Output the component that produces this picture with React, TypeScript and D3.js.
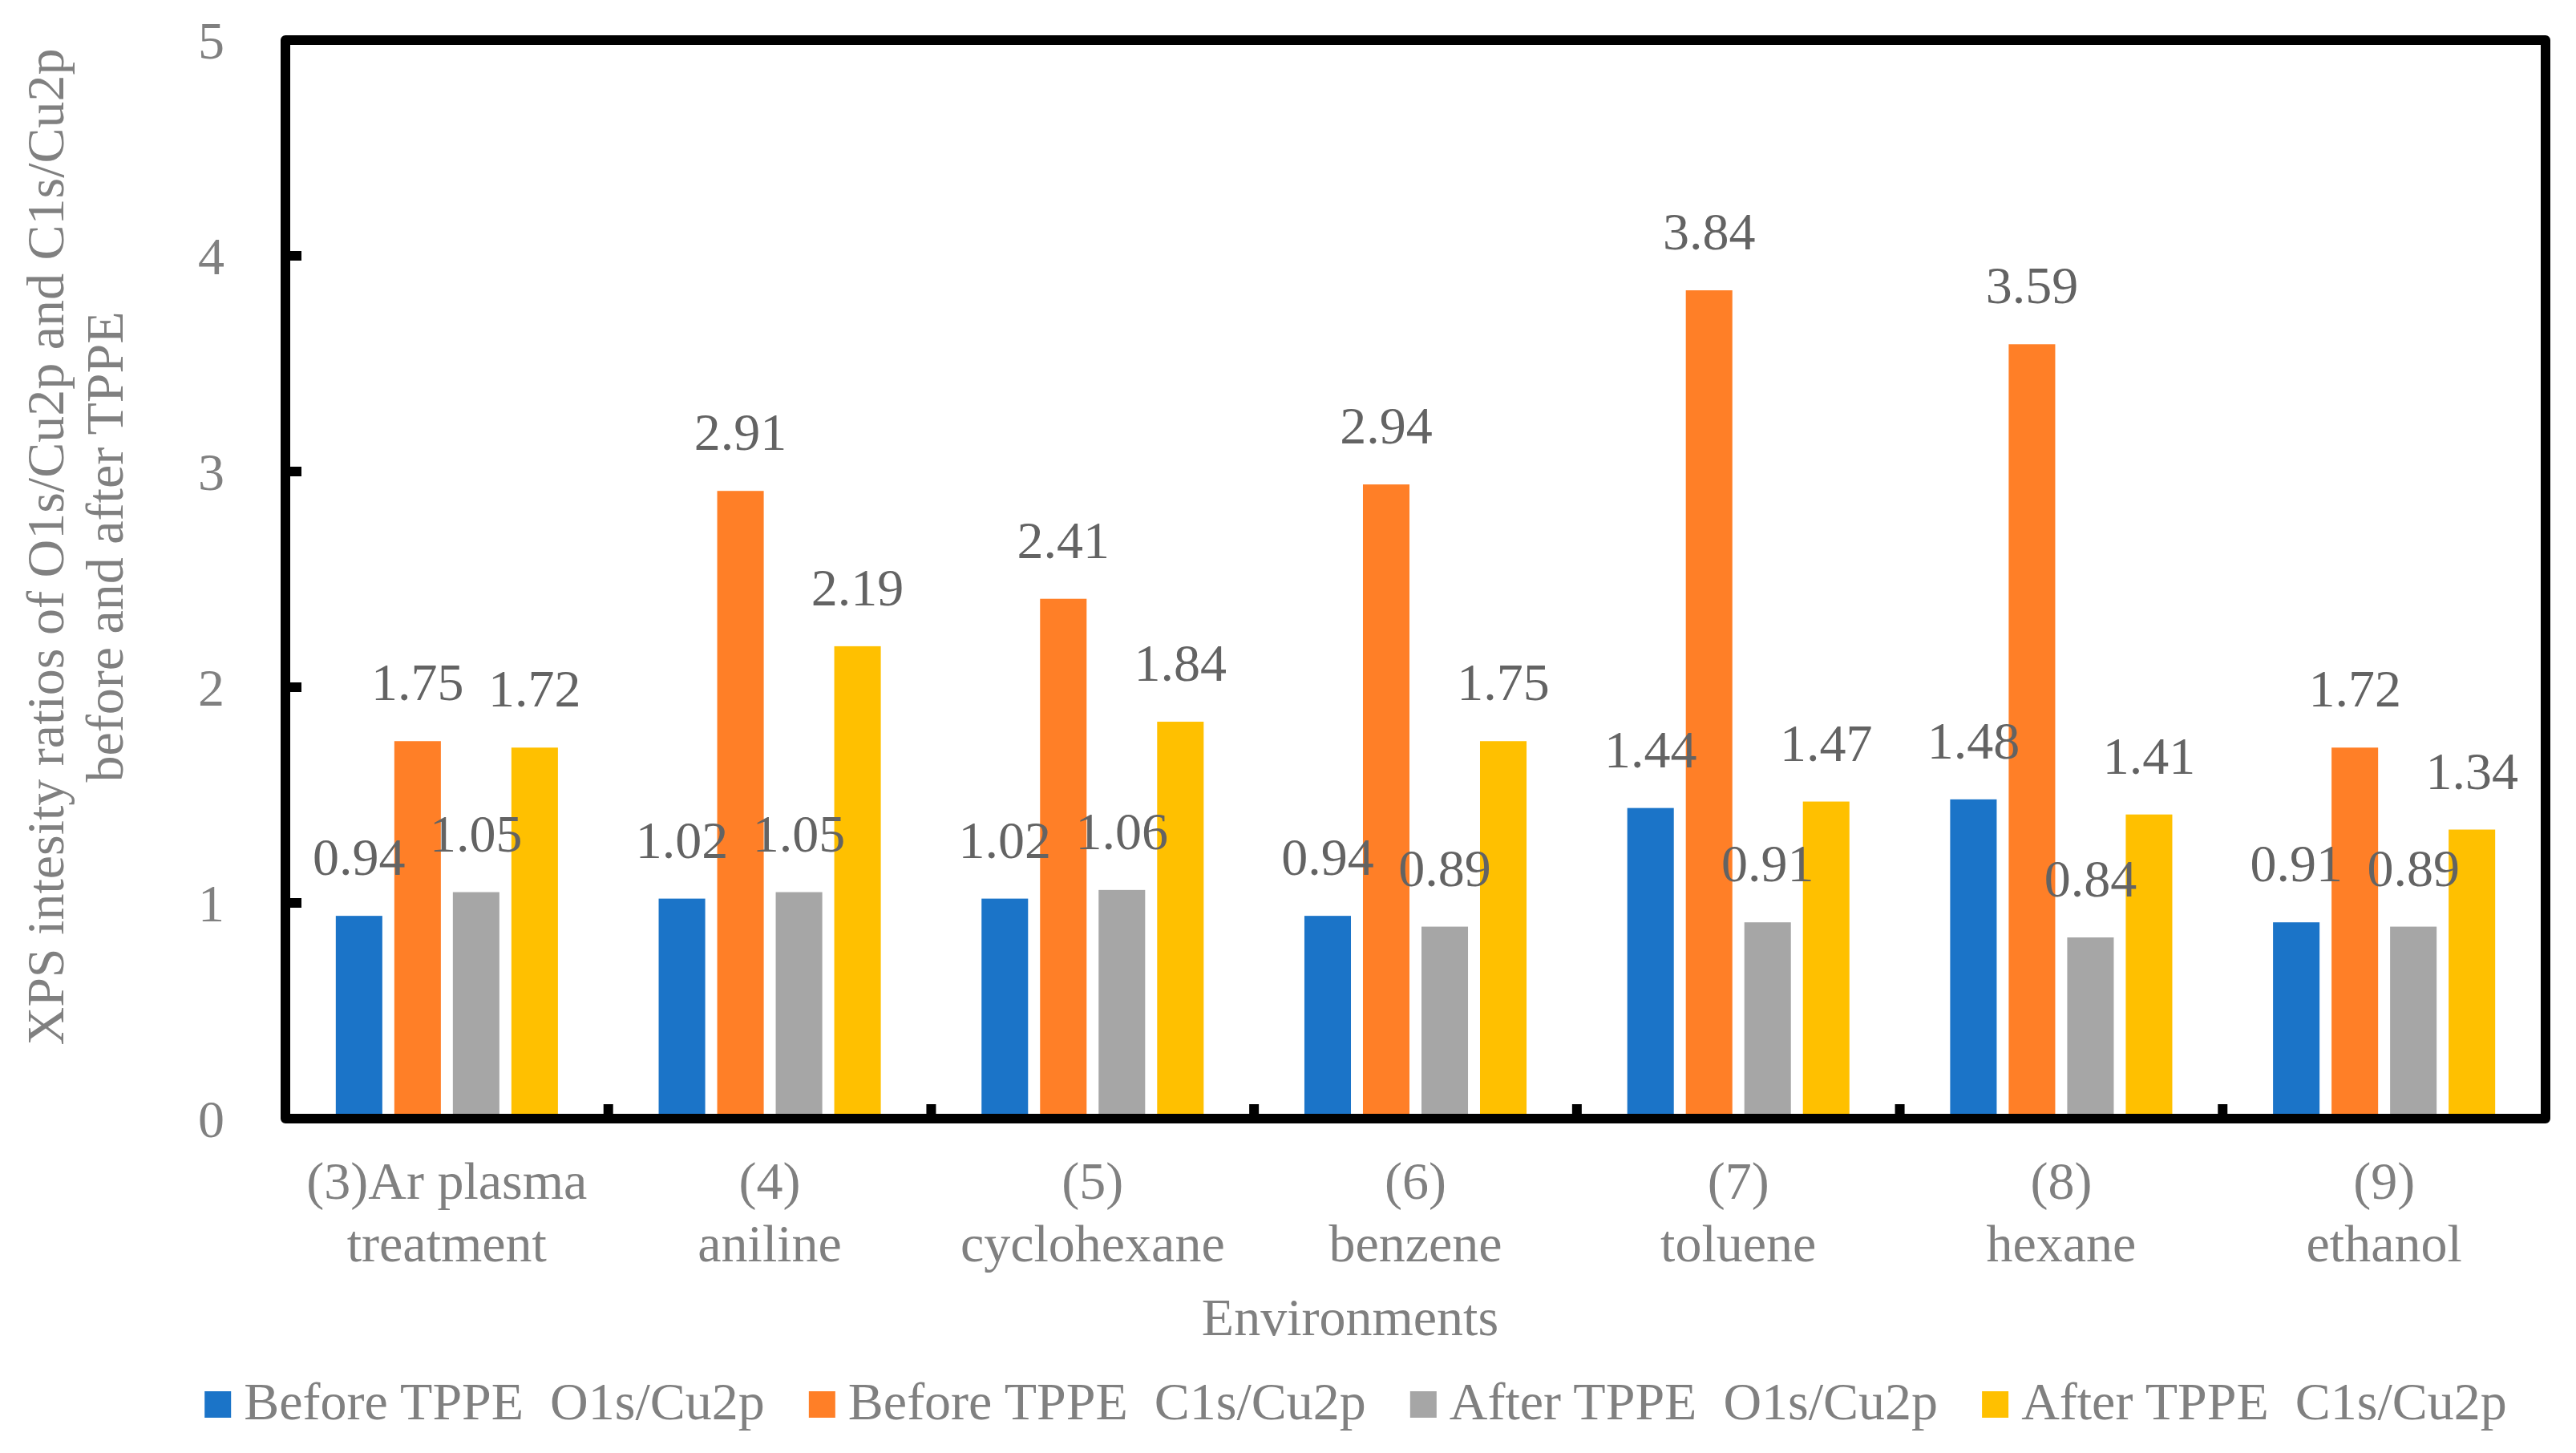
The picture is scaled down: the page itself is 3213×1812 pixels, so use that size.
import React, { useEffect, useRef } from 'react';
import * as d3 from 'd3';

// --- chart data ---
const categoryLines: string[][] = [
  ['(3)Ar plasma', 'treatment'],
  ['(4)', 'aniline'],
  ['(5)', 'cyclohexane'],
  ['(6)', 'benzene'],
  ['(7)', 'toluene'],
  ['(8)', 'hexane'],
  ['(9)', 'ethanol'],
];

const seriesNames = [
  'Before TPPE  O1s/Cu2p',
  'Before TPPE  C1s/Cu2p',
  'After TPPE  O1s/Cu2p',
  'After TPPE  C1s/Cu2p',
];

const beforeO1s = [0.94, 1.02, 1.02, 0.94, 1.44, 1.48, 0.91];
const beforeC1s = [1.75, 2.91, 2.41, 2.94, 3.84, 3.59, 1.72];
const afterO1s = [1.05, 1.05, 1.06, 0.89, 0.91, 0.84, 0.89];
const afterC1s = [1.72, 2.19, 1.84, 1.75, 1.47, 1.41, 1.34];

const yTicks = [0, 1, 2, 3, 4, 5];

const seriesColors = ['#1B74C8', '#FF7F27', '#A6A6A6', '#FFC000'];

const yTitleLines = ['XPS intesity ratios of O1s/Cu2p and C1s/Cu2p', 'before and after TPPE'];
const xTitle = 'Environments';

const WIDTH = 3213;
const HEIGHT = 1812;
const FONT = '"Liberation Serif", "Times New Roman", serif';
const AXIS_TEXT = '#808080';
const LABEL_TEXT = '#636363';

const App: React.FC = () => {
  const svgRef = useRef<SVGSVGElement>(null);

  useEffect(() => {
    document.body.style.margin = '0';
    if (!svgRef.current) return;
    const svg = d3.select(svgRef.current);
    svg.selectAll('*').remove();

    // plot frame (stroke centres)
    const left = 356, right = 3175, top = 50, bottom = 1395;

    const x = d3.scaleBand<number>()
      .domain(d3.range(categoryLines.length))
      .range([left, right]);

    const groupPad = x.bandwidth() * 0.156;
    const xs = d3.scaleBand<number>()
      .domain(d3.range(seriesNames.length))
      .range([groupPad, x.bandwidth() - groupPad])
      .paddingInner(0.205);

    const y = d3.scaleLinear().domain([0, 5]).range([bottom, top]);

    const series = [beforeO1s, beforeC1s, afterO1s, afterC1s];

    // bars
    const groups = svg.append('g')
      .selectAll('g')
      .data(series)
      .join('g')
      .attr('fill', (_, i) => seriesColors[i]);

    groups.selectAll('rect')
      .data((d, si) => d.map((v, ci) => ({ v, ci, si })))
      .join('rect')
      .attr('x', d => (x(d.ci) as number) + (xs(d.si) as number))
      .attr('width', xs.bandwidth())
      .attr('y', d => y(d.v))
      .attr('height', d => y(0) - y(d.v));

    // data labels
    const fmt = d3.format('.2f');
    svg.append('g')
      .attr('font-family', FONT)
      .attr('font-size', 66)
      .attr('fill', LABEL_TEXT)
      .attr('text-anchor', 'middle')
      .selectAll('g')
      .data(series)
      .join('g')
      .selectAll('text')
      .data((d, si) => d.map((v, ci) => ({ v, ci, si })))
      .join('text')
      .attr('x', d => (x(d.ci) as number) + (xs(d.si) as number) + xs.bandwidth() / 2)
      .attr('y', d => y(d.v) - 51)
      .text(d => fmt(d.v));

    // frame
    svg.append('rect')
      .attr('x', left)
      .attr('y', top)
      .attr('width', right - left)
      .attr('height', bottom - top)
      .attr('fill', 'none')
      .attr('stroke', '#000')
      .attr('stroke-width', 12)
      .attr('stroke-linejoin', 'round');

    // y ticks (inside)
    svg.append('g')
      .selectAll('line')
      .data(yTicks.filter(t => t > 0 && t < 5))
      .join('line')
      .attr('x1', left)
      .attr('x2', left + 20)
      .attr('y1', d => y(d))
      .attr('y2', d => y(d))
      .attr('stroke', '#000')
      .attr('stroke-width', 12);

    // category boundary ticks (inside)
    svg.append('g')
      .selectAll('line')
      .data(d3.range(1, categoryLines.length))
      .join('line')
      .attr('x1', d => x(d) as number)
      .attr('x2', d => x(d) as number)
      .attr('y1', bottom)
      .attr('y2', bottom - 18)
      .attr('stroke', '#000')
      .attr('stroke-width', 12);

    // y tick labels
    svg.append('g')
      .attr('font-family', FONT)
      .attr('font-size', 66)
      .attr('fill', AXIS_TEXT)
      .attr('text-anchor', 'end')
      .selectAll('text')
      .data(yTicks)
      .join('text')
      .attr('x', 280)
      .attr('y', d => y(d))
      .attr('dy', '0.35em')
      .text(d => d);

    // category labels
    const cat = svg.append('g')
      .attr('font-family', FONT)
      .attr('font-size', 66)
      .attr('fill', AXIS_TEXT)
      .attr('text-anchor', 'middle')
      .selectAll('text')
      .data(categoryLines)
      .join('text')
      .attr('transform', (_, i) => `translate(${(x(i) as number) + x.bandwidth() / 2},1495)`);
    cat.selectAll('tspan')
      .data(d => d)
      .join('tspan')
      .attr('x', 0)
      .attr('y', (_, i) => i * 78)
      .text(d => d);

    // x title
    svg.append('text')
      .attr('x', 1684)
      .attr('y', 1665)
      .attr('font-family', FONT)
      .attr('font-size', 66)
      .attr('fill', AXIS_TEXT)
      .attr('text-anchor', 'middle')
      .text(xTitle);

    // y title
    const yt = svg.append('text')
      .attr('transform', 'translate(0,682) rotate(-90)')
      .attr('font-family', FONT)
      .attr('font-size', 66)
      .attr('fill', AXIS_TEXT)
      .attr('text-anchor', 'middle');
    yt.selectAll('tspan')
      .data(yTitleLines)
      .join('tspan')
      .attr('x', 0)
      .attr('y', (_, i) => 79 + i * 74)
      .text(d => d);

    // legend, laid out from measured text widths
    const legend = svg.append('g')
      .attr('font-family', FONT)
      .attr('font-size', 66)
      .attr('fill', AXIS_TEXT);
    const items = legend.selectAll('g')
      .data(seriesNames)
      .join('g');
    items.append('rect')
      .attr('width', 33)
      .attr('height', 33)
      .attr('y', 1735)
      .attr('fill', (_, i) => seriesColors[i]);
    const labels = items.append('text')
      .attr('x', 49)
      .attr('y', 1770)
      .style('white-space', 'pre')
      .attr('xml:space', 'preserve')
      .text(d => d);

    const widths = labels.nodes().map(n => (n as SVGTextElement).getComputedTextLength());
    const itemW = widths.map(w => 49 + w);
    const gap = 55;
    const total = d3.sum(itemW) + gap * (itemW.length - 1);
    let cx = 1691 - total / 2;
    const offsets = itemW.map(w => { const o = cx; cx += w + gap; return o; });
    items.attr('transform', (_, i) => `translate(${offsets[i]},0)`);
  }, []);

  return (
    <svg
      ref={svgRef}
      width={WIDTH}
      height={HEIGHT}
      viewBox={`0 0 ${WIDTH} ${HEIGHT}`}
      style={{ display: 'block', background: '#fff' }}
    />
  );
};

export default App;
